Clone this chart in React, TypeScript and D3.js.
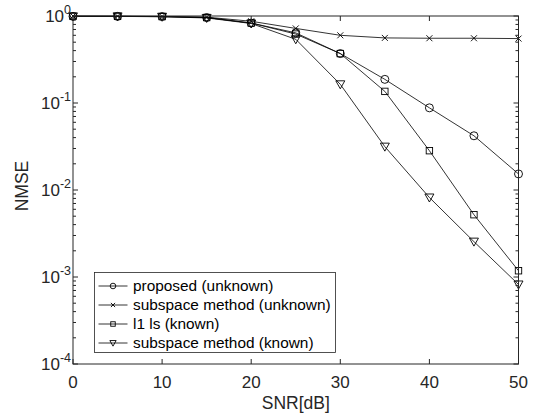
import React from 'react';
import * as d3 from 'd3';

const snr = [0, 5, 10, 15, 20, 25, 30, 35, 40, 45, 50];
const proposedUnknown = [0.99, 0.99, 0.985, 0.96, 0.83, 0.64, 0.37, 0.187, 0.088, 0.042, 0.0153];
const subspaceUnknown = [1.0, 0.995, 0.99, 0.97, 0.87, 0.72, 0.6, 0.56, 0.555, 0.555, 0.55];
const l1lsKnown = [0.99, 0.99, 0.985, 0.96, 0.83, 0.62, 0.37, 0.136, 0.0283, 0.0052, 0.00118];
const subspaceKnown = [0.99, 0.99, 0.98, 0.95, 0.82, 0.54, 0.164, 0.0315, 0.0082, 0.00255, 0.00082];
const legendLabels = ['proposed (unknown)', 'subspace method (unknown)', 'l1 ls (known)', 'subspace method (known)'];
const markerTypes = ['circle', 'x', 'square', 'triangle'];
const xTicks = [0, 10, 20, 30, 40, 50];
const yTickExps = [0, -1, -2, -3, -4];

const W = 533, H = 415;
const L = 73, R = 518.5, T = 16, B = 364;
const AX = '#262626';
const FONT = '"Liberation Sans", Arial, Helvetica, sans-serif';

function Marker({ type, x, y, k = 1 }: { type: string; x: number; y: number; k?: number }) {
  const s = { fill: 'none', stroke: '#000', strokeWidth: 0.9 };
  if (type === 'circle') return <circle cx={x} cy={y} r={4 * k} {...s} />;
  if (type === 'square') return <rect x={x - 3.2 * k} y={y - 3.2 * k} width={6.4 * k} height={6.4 * k} {...s} />;
  if (type === 'x') { const a = 3 * k; return <path d={`M${x - a},${y - a}L${x + a},${y + a}M${x - a},${y + a}L${x + a},${y - a}`} {...s} />; }
  if (type === 'triangle') return <path d={`M${x - 4.5 * k},${y - 3.5 * k}L${x + 4.5 * k},${y - 3.5 * k}L${x},${y + 4.5 * k}Z`} {...s} />;
  return null;
}

export default function App() {
  const x = d3.scaleLinear().domain([0, 50]).range([L, R]);
  const y = d3.scaleLog().domain([1e-4, 1]).range([B, T]);
  const series = [proposedUnknown, subspaceUnknown, l1lsKnown, subspaceKnown];
  const line = d3.line<number>().x((_, i) => x(snr[i])).y((d) => y(d));

  const minor: number[] = [];
  for (let e = -4; e < 0; e++) for (let m = 2; m <= 9; m++) minor.push(m * Math.pow(10, e));

  const legX = 94.5, legY = 272.5, legW = 241, legH = 80, rowH = 19;

  return (
    <svg width={W} height={H} style={{ position: 'absolute', left: 0, top: 0, background: '#fff' }} fontFamily={FONT}>
      <rect x={0} y={0} width={W} height={H} fill="#fff" />
      {series.map((s, k) => (
        <g key={k}>
          <path d={line(s) || ''} fill="none" stroke="#000" strokeWidth={0.8} />
          {s.map((v, i) => <Marker key={i} type={markerTypes[k]} x={x(snr[i])} y={y(v)} />)}
        </g>
      ))}
      <rect x={L} y={T} width={R - L} height={B - T} fill="none" stroke={AX} strokeWidth={1} />
      {xTicks.map((t) => (
        <g key={t}>
          <line x1={x(t)} x2={x(t)} y1={B} y2={B - 5} stroke={AX} />
          <line x1={x(t)} x2={x(t)} y1={T} y2={T + 5} stroke={AX} />
          <text x={x(t)} y={388} textAnchor="middle" fontSize={17} fill={AX}>{t}</text>
        </g>
      ))}
      {yTickExps.map((e) => {
        const yy = y(Math.pow(10, e));
        return (
          <g key={e}>
            <line x1={L} x2={L + 5} y1={yy} y2={yy} stroke={AX} />
            <line x1={R} x2={R - 5} y1={yy} y2={yy} stroke={AX} />
            <text x={L - 2} y={yy + 6} textAnchor="end" fontSize={17} fill={AX}>
              10<tspan dy={-8} fontSize={12.5}>{e}</tspan>
            </text>
          </g>
        );
      })}
      {minor.map((v, i) => (
        <g key={i}>
          <line x1={L} x2={L + 3} y1={y(v)} y2={y(v)} stroke={AX} />
          <line x1={R} x2={R - 3} y1={y(v)} y2={y(v)} stroke={AX} />
        </g>
      ))}
      <text x={(L + R) / 2} y={409} textAnchor="middle" fontSize={17.5} fill={AX}>SNR[dB]</text>
      <text transform={`translate(28,${(T + B) / 2 - 4}) rotate(-90)`} textAnchor="middle" fontSize={17.5} fill={AX}>NMSE</text>
      <rect x={legX} y={legY} width={legW} height={legH} fill="#fff" stroke={AX} strokeWidth={0.8} />
      {legendLabels.map((lab, k) => {
        const yy = legY + 13.5 + k * rowH;
        return (
          <g key={k}>
            <line x1={legX + 4} x2={legX + 33} y1={yy} y2={yy} stroke="#000" strokeWidth={0.8} />
            <Marker type={markerTypes[k]} x={legX + 18.5} y={yy} k={0.7} />
            <text x={legX + 38.5} y={yy + 5.3} fontSize={15.4} fill="#000">{lab}</text>
          </g>
        );
      })}
    </svg>
  );
}
